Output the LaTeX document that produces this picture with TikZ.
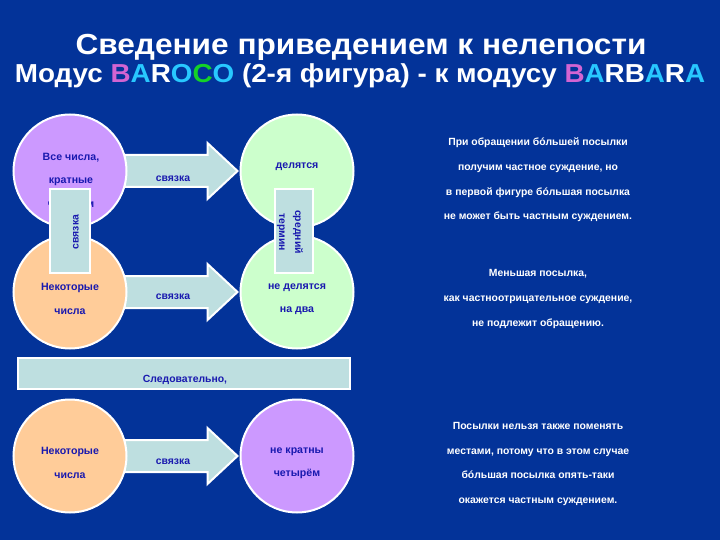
\documentclass[tikz,border=0pt]{standalone}
\usepackage{fontspec}
\setmainfont{Liberation Sans}
\usetikzlibrary{calc}
\definecolor{bg}{RGB}{3,51,153}
\definecolor{purp}{RGB}{204,153,255}
\definecolor{grn}{RGB}{204,255,204}
\definecolor{orng}{RGB}{255,204,153}
\definecolor{lblue}{RGB}{190,223,224}
\definecolor{txtblue}{RGB}{25,25,175}
\definecolor{pinkc}{RGB}{210,100,210}
\definecolor{cyanc}{RGB}{40,200,255}
\definecolor{greenc}{RGB}{20,210,40}
\pgfdeclarelayer{back}
\pgfdeclarelayer{arrows}
\pgfsetlayers{back,arrows,main}
\newcommand\fatarrow[2]{%
  \draw[arrowbox] ($(#1.east)+(-3,-16)$) -- ($(#2.west)+(-32,-16)$) -- ($(#2.west)+(-32,-28)$)
   -- ($(#2.west)+(-2,0)$) -- ($(#2.west)+(-32,28)$) -- ($(#2.west)+(-32,16)$)
   -- ($(#1.east)+(-3,16)$) -- cycle;}
\begin{document}
\begin{tikzpicture}[x=1pt,y=-1pt,
  circ/.style={circle, draw=white, line width=2pt, minimum size=113pt, inner sep=0pt},
  ctext/.style={text=txtblue, font=\bfseries\fontsize{10.6}{23.5}\selectfont, align=center, inner sep=0pt},
  arrowbox/.style={fill=lblue, draw=white, line width=2pt, line join=miter},
  rbox/.style={rectangle, fill=lblue, draw=white, line width=2pt, inner sep=0pt},
  wtext/.style={text=white, font=\bfseries\fontsize{10.4}{24.8}\selectfont, align=center, inner sep=0pt},
  ltext/.style={text=txtblue, font=\bfseries\fontsize{10.4}{12}\selectfont, inner sep=0pt}]
\begin{pgfonlayer}{back}
\fill[bg] (0,0) rectangle (720,540);
\end{pgfonlayer}
\useasboundingbox (0,0) rectangle (720,540);
% titles
\node[text=white, font=\bfseries\fontsize{29}{34}\selectfont, inner sep=0pt, anchor=base] (title1) at (361,55)
  {\scalebox{1.09}[1]{Сведение приведением к нелепости}};
\node[text=white, font=\bfseries\fontsize{26}{30}\selectfont, inner sep=0pt, anchor=base] (title2) at (360,83)
  {\scalebox{1.07}[1]{Модус \textcolor{pinkc}{B}\textcolor{cyanc}{A}R\textcolor{cyanc}{O}\textcolor{greenc}{C}\textcolor{cyanc}{O} (2-я фигура) - к модусу \textcolor{pinkc}{B}\textcolor{cyanc}{A}RB\textcolor{cyanc}{A}R\textcolor{cyanc}{A}}};
% circles
\node[circ, fill=purp] (c1) at (70,171) {};
\node[circ, fill=grn]  (c2) at (297,171) {};
\node[circ, fill=orng] (c3) at (70,292) {};
\node[circ, fill=grn]  (c4) at (297,292) {};
\node[circ, fill=orng] (c5) at (70,456) {};
\node[circ, fill=purp] (c6) at (297,456) {};
% arrows
\begin{pgfonlayer}{arrows}
\fatarrow{c1}{c2}
\fatarrow{c3}{c4}
\fatarrow{c5}{c6}
\end{pgfonlayer}
\node[ltext] (a1) at (173,179) {связка};
\node[ltext] (a2) at (173,297) {связка};
\node[ltext] (a3) at (173,462) {связка};
% circle texts
\node[ctext] (t1) at (71,181) {Все числа,\\кратные\\четырём};
\node[ctext] (t2) at (297,167) {делятся};
\node[ctext] (t3) at (70,299) {Некоторые\\числа};
\node[ctext] (t4) at (297,299) {не делятся\\на два};
\node[ctext] (t5) at (70,463) {Некоторые\\числа};
\node[ctext] (t6) at (297,463) {не кратны\\четырём};
% vertical boxes
\node[rbox, minimum width=40pt, minimum height=84pt] (v1) at (70,231) {};
\node[ltext, rotate=90] (v1t) at (76,232) {связка};
\node[rbox, minimum width=38pt, minimum height=84pt] (v2) at (294,231) {};
\node[ltext, rotate=-90, align=center, font=\bfseries\fontsize{10.4}{16}\selectfont] (v2t) at (290,232) {средний\\термин};
% conclusion bar
\node[rbox, minimum width=332pt, minimum height=31pt] (bar) at (184,373.5) {};
\node[ltext] (bart) at (185,380) {Следовательно,};
% right texts
\node[wtext] (r1) at (538,180) {При обращении бóльшей посылки\\получим частное суждение, но\\в первой фигуре бóльшая посылка\\не может быть частным суждением.};
\node[wtext] (r2) at (538,299) {Меньшая посылка,\\как частноотрицательное суждение,\\не подлежит обращению.};
\node[wtext] (r3) at (538,464) {Посылки нельзя также поменять\\местами, потому что в этом случае\\бóльшая посылка опять-таки\\окажется частным суждением.};
\end{tikzpicture}
\end{document}
